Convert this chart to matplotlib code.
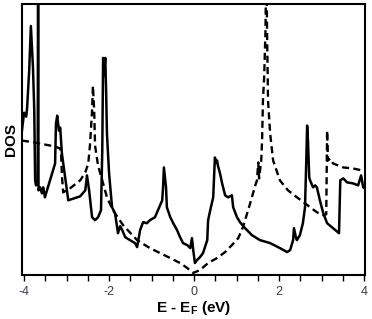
import matplotlib
matplotlib.use("Agg")
import matplotlib.pyplot as plt
import numpy as np

plt.rcParams['font.family'] = ['Liberation Sans', 'DejaVu Sans']
plt.rcParams['mathtext.fontset'] = 'custom'
plt.rcParams['mathtext.bf'] = 'Liberation Sans:bold'
plt.rcParams['mathtext.rm'] = 'Liberation Sans:bold'

# solid curve
e_solid = [-4.05, -4.00, -3.95, -3.93, -3.88, -3.84, -3.79, -3.76, -3.74, -3.72, -3.69,
           -3.68, -3.67, -3.66, -3.62, -3.58, -3.55, -3.51, -3.39, -3.27, -3.25, -3.22,
           -3.18, -3.15, -3.11, -3.04, -2.96, -2.82, -2.68, -2.56, -2.52, -2.47, -2.40,
           -2.33, -2.26, -2.19, -2.16, -2.14, -2.12, -2.09, -2.07, -2.05, -2.00, -1.93,
           -1.86, -1.79, -1.74, -1.69, -1.62, -1.51, -1.39, -1.34, -1.27, -1.20, -1.11,
           -1.04, -0.92, -0.80, -0.75, -0.73, -0.71, -0.66, -0.64, -0.56, -0.49, -0.40,
           -0.33, -0.26, -0.16, -0.09, -0.05, -0.02, 0.02, 0.07, 0.14, 0.21, 0.31, 0.33,
           0.38, 0.45, 0.49, 0.52, 0.54, 0.56, 0.61, 0.66, 0.73, 0.80, 0.89, 0.92, 1.01,
           1.08, 1.20, 1.36, 1.55, 1.79, 2.02, 2.19, 2.26, 2.33, 2.35, 2.40, 2.42, 2.49,
           2.56, 2.61, 2.64, 2.66, 2.68, 2.71, 2.73, 2.80, 2.85, 2.89, 2.96, 3.04, 3.13,
           3.27, 3.41, 3.44, 3.51, 3.60, 3.74, 3.86, 3.93, 3.98, 4.02]
dos_solid = [145, 163, 159, 167, 205, 250, 208, 165, 95, 90, 92,
             95, 320, 85, 88, 82, 88, 78, 95, 112, 152, 160,
             145, 148, 122, 100, 75, 77, 79, 85, 100, 85, 58,
             55, 58, 65, 125, 218, 200, 218, 185, 142, 102, 68,
             62, 42, 49, 45, 38, 35, 32, 28, 45, 53, 52,
             55, 58, 70, 75, 88, 108, 88, 68, 58, 52, 45,
             38, 32, 30, 27, 37, 25, 12, 15, 18, 22, 35, 55,
             65, 78, 118, 113, 115, 110, 102, 92, 80, 78, 80, 68, 58,
             53, 47, 40, 35, 32, 27, 23, 25, 35, 47, 37, 35, 40,
             52, 68, 115, 150, 135, 98, 95, 88, 90, 88, 75, 62, 52,
             47, 42, 95, 97, 93, 92, 90, 100, 88, 87]

# dashed curve
e_dash = [-4.05, -3.74, -3.51, -3.27, -3.15, -3.13, -3.11, -3.08, -2.92, -2.68, -2.56,
          -2.49, -2.45, -2.40, -2.38, -2.35, -2.33, -2.26, -2.16, -2.05, -1.91, -1.67,
          -1.34, -1.04, -0.80, -0.56, -0.33, -0.16, -0.02, 0.14, 0.33, 0.54, 0.73, 0.89,
          1.04, 1.15, 1.32, 1.44, 1.48, 1.51, 1.53, 1.58, 1.60, 1.62, 1.65, 1.68, 1.70,
          1.72, 1.74, 1.79, 1.86, 2.02, 2.21, 2.42, 2.61, 2.73, 2.89, 3.04, 3.11, 3.13,
          3.15, 3.20, 3.27, 3.51, 3.74, 3.95, 4.02]
dos_dash = [135, 133, 131, 129, 127, 123, 100, 83, 87, 95, 103,
            112, 130, 165, 190, 165, 130, 110, 95, 78, 65, 50,
            35, 27, 22, 17, 12, 7, 2, 5, 12, 17, 23, 30,
            37, 48, 72, 90, 95, 113, 97, 115, 135, 175, 200, 245, 320,
            235, 175, 142, 115, 95, 85, 78, 72, 68, 63, 60, 61, 145,
            115, 117, 112, 108, 107, 105, 105]

xticks = [-4, -2, 0, 2, 4]

fig = plt.figure(figsize=(3.72, 3.19), dpi=100)
ax = fig.add_axes([0.059, 0.138, 0.922, 0.849])

ax.plot(e_solid, dos_solid, color='black', lw=1.8)
ax.plot(e_dash, dos_dash, color='black', lw=1.7, dashes=(3, 1.8))

ax.set_xlim(-4.05, 4.02)
ax.set_ylim(0, 272)
ax.set_xticks(xticks)
ax.set_xticklabels([str(t) for t in xticks])
ax.set_xticks(np.arange(-4, 4.01, 0.5), minor=True)
ax.set_yticks([])
ax.tick_params(axis='x', which='both', direction='out', length=4, width=1,
               labelsize=9, labelcolor='#3a3a4a', pad=4)

for s in ax.spines.values():
    s.set_linewidth(1.5)

ax.set_xlabel(r'E - E$_\mathbf{F}$ (eV)', fontsize=11, fontweight='bold', labelpad=1)
ax.set_ylabel('DOS', fontsize=11, fontweight='bold', labelpad=3)

fig.savefig('out.png', dpi=100)
